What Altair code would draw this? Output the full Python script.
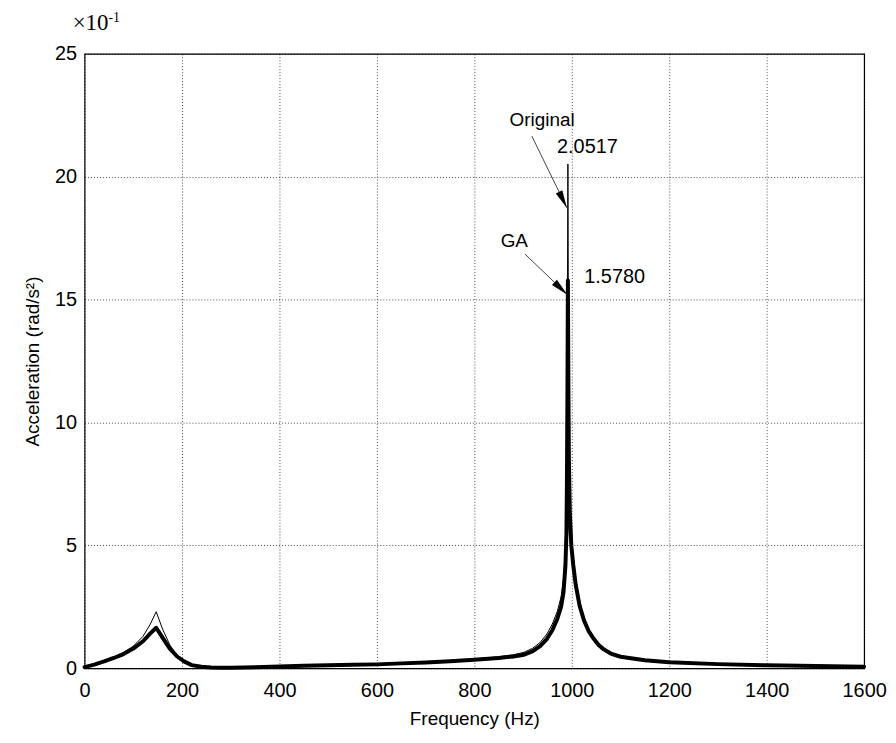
import math
import altair as alt
import pandas as pd

# ---- data (acceleration in units of 1e-1 rad/s^2) ----
freq = [0, 20, 40, 60, 80, 100, 120, 135, 147, 160, 175, 190, 205, 220, 240, 260,
        280, 300, 350, 400, 450, 500, 550, 600, 650, 700, 750, 800, 850, 880, 902,
        920, 935, 949, 960, 970, 978, 983, 987, 989, 990, 991, 992, 993, 994, 996,
        999, 1003, 1008, 1016, 1025, 1035, 1045, 1055, 1065, 1080, 1100, 1150, 1200,
        1300, 1400, 1500, 1600]

ga = [0.05, 0.15, 0.28, 0.42, 0.58, 0.80, 1.10, 1.42, 1.65, 1.25, 0.80, 0.48,
      0.27, 0.13, 0.06, 0.03, 0.02, 0.02, 0.04, 0.07, 0.10, 0.12, 0.14, 0.16,
      0.20, 0.24, 0.29, 0.35, 0.42, 0.48, 0.55, 0.70, 0.90, 1.20, 1.55, 2.00,
      2.50, 3.10, 4.20, 5.50, 7.50, 11.0, 15.78, 11.5, 8.50, 6.30, 5.00, 4.20,
      3.40, 2.55, 1.95, 1.50, 1.20, 0.95, 0.78, 0.60, 0.47, 0.33, 0.25, 0.17,
      0.12, 0.09, 0.06]

original = [0.05, 0.17, 0.30, 0.46, 0.65, 0.90, 1.30, 1.80, 2.30, 1.60, 0.95,
            0.52, 0.28, 0.14, 0.07, 0.04, 0.03, 0.03, 0.05, 0.08, 0.11, 0.13,
            0.15, 0.18, 0.22, 0.27, 0.32, 0.38, 0.47, 0.55, 0.65, 0.82, 1.05,
            1.40, 1.80, 2.30, 2.90, 3.60, 5.00, 6.80, 9.50, 14.5, 20.517, 14.5,
            10.0, 7.00, 5.40, 4.50, 3.60, 2.70, 2.05, 1.58, 1.27, 1.00, 0.82,
            0.63, 0.50, 0.35, 0.27, 0.18, 0.13, 0.10, 0.07]

x_ticks = [0, 200, 400, 600, 800, 1000, 1200, 1400, 1600]
y_ticks = [0, 5, 10, 15, 20, 25]

name_label = ["Original", "GA"]
name_f = [939, 882]
name_v = [22.3, 17.4]

peak_label = ["2.0517", "1.5780"]
peak_f = [1032, 1088]
peak_v = [21.2, 15.9]

arrow_f0 = [918, 904]
arrow_v0 = [21.65, 16.85]
arrow_f1 = [990, 991]
arrow_v1 = [18.73, 15.2]

# ---- layout ----
W, H = 784, 618
PX_F = W / 1600.0
PX_V = H / 25.0
FONT = "Liberation Sans"

xs = alt.Scale(domain=[0, 1600], nice=False, zero=False)
ys = alt.Scale(domain=[0, 25], nice=False)

n = len(freq)
df = pd.DataFrame({"f": freq * 2, "v": original + ga,
                   "s": ["Original"] * n + ["GA"] * n})

x_enc = alt.X("f:Q", scale=xs, title="Frequency (Hz)",
              axis=alt.Axis(values=x_ticks, format="d"))
y_enc = alt.Y("v:Q", scale=ys, title="Acceleration (rad/s²)",
              axis=alt.Axis(values=y_ticks, format="d"))

base = alt.Chart(df)
line_ga = base.transform_filter(alt.datum.s == "GA").mark_line(
    color="black", strokeWidth=4, strokeJoin="round", strokeCap="round"
).encode(x=x_enc, y=y_enc)
line_or = base.transform_filter(alt.datum.s == "Original").mark_line(
    color="black", strokeWidth=1).encode(x="f:Q", y="v:Q")

names = alt.Chart(pd.DataFrame({"f": name_f, "v": name_v, "t": name_label})).mark_text(
    font=FONT, fontSize=19, color="black").encode(x="f:Q", y="v:Q", text="t:N")
peaks = alt.Chart(pd.DataFrame({"f": peak_f, "v": peak_v, "t": peak_label})).mark_text(
    font=FONT, fontSize=20, color="black").encode(x="f:Q", y="v:Q", text="t:N")

angles = []
for a, b, c, d in zip(arrow_f0, arrow_v0, arrow_f1, arrow_v1):
    dx = (c - a) * PX_F
    dy = (b - d) * PX_V
    angles.append(math.degrees(math.atan2(dx, -dy)) % 360)

arr_df = pd.DataFrame({"f0": arrow_f0, "v0": arrow_v0, "f1": arrow_f1,
                       "v1": arrow_v1, "ang": angles})
arrows = alt.Chart(arr_df).mark_rule(color="#444", strokeWidth=1).encode(
    x="f0:Q", y="v0:Q", x2="f1:Q", y2="v1:Q")
heads = alt.Chart(arr_df).mark_point(
    shape="M0,0L0.2,1L-0.2,1Z", filled=True, color="black", size=1300, opacity=1,
    strokeWidth=0
).encode(x="f1:Q", y="v1:Q", angle=alt.Angle("ang:Q", scale=None))

mult = alt.Chart(pd.DataFrame({"t": ["×10"]})).mark_text(
    font="Liberation Serif", fontSize=23, color="black", align="left",
    baseline="alphabetic").encode(x=alt.value(-12), y=alt.value(-24), text="t:N")
exp = alt.Chart(pd.DataFrame({"t": ["-1"]})).mark_text(
    font="Liberation Serif", fontSize=14, color="black", align="left",
    baseline="alphabetic").encode(x=alt.value(24), y=alt.value(-32), text="t:N")

chart = alt.layer(line_ga, line_or, arrows, heads, names, peaks, mult, exp).properties(
    width=W, height=H,
    autosize=alt.AutoSizeParams(type="none"),
    padding={"left": 77, "top": 44, "right": 24, "bottom": 60},
).configure_view(stroke="black", strokeWidth=1.2).configure_axis(
    grid=True, gridColor="black", gridDash=[1, 2], gridOpacity=0.7, gridWidth=1,
    domain=False, ticks=False, labelFont=FONT, labelFontSize=20, labelFlush=False,
    labelColor="black", titleFont=FONT, titleFontSize=19, titleFontWeight="normal",
    titleColor="black",
).configure_axisX(labelPadding=12, titlePadding=10).configure_axisY(
    labelPadding=8, titlePadding=12)

chart.save("out.html", embed_options={"renderer": "svg", "actions": False})
